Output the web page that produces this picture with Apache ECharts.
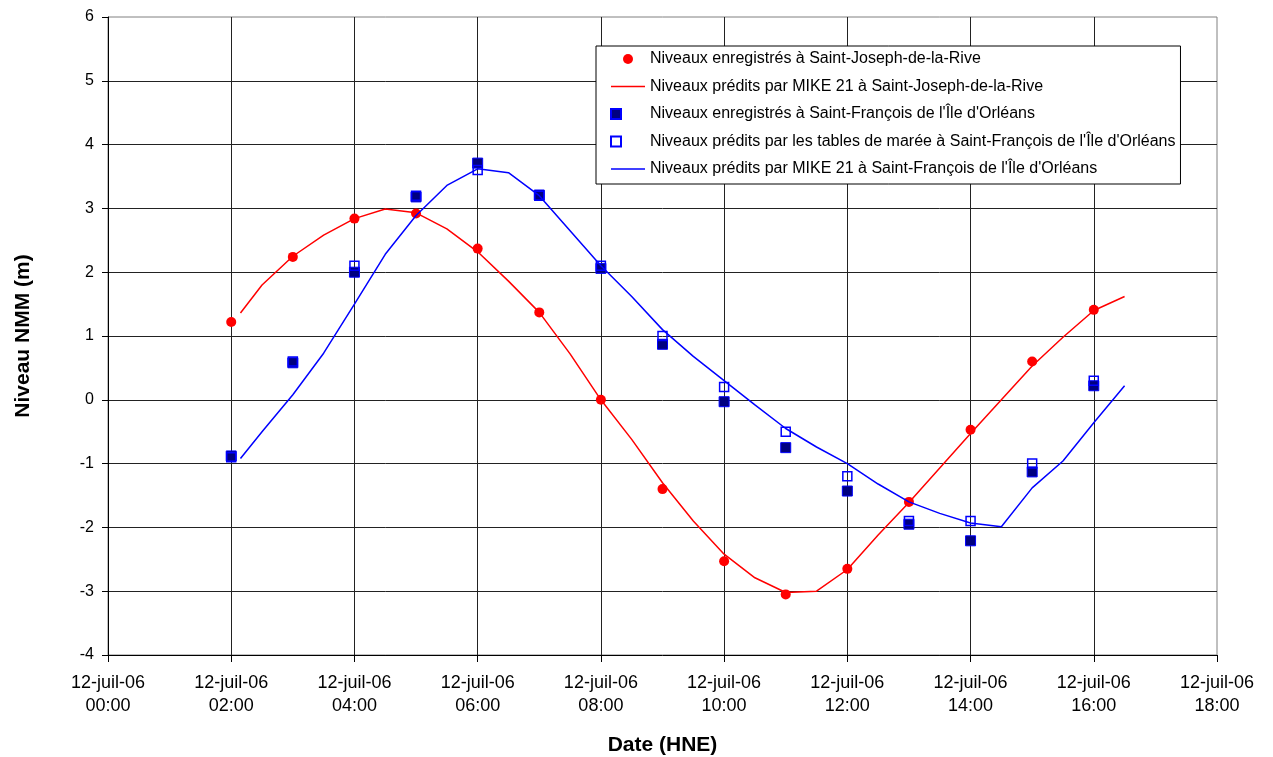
<!DOCTYPE html>
<html lang="fr">
<head>
<meta charset="UTF-8">
<title>Niveaux NMM - 12 juillet 2006</title>
<script src="https://cdn.jsdelivr.net/npm/echarts@6/dist/echarts.min.js"></script>
<style>
	html, body { margin: 0; padding: 0; background: #fff; }
	#main { width: 1273px; height: 757px; }
</style>
</head>
<body>
<div id="main"></div>
<script>
	// heures d'observation (HNE), 12 juillet 2006
	var obsHours = [2, 3, 4, 5, 6, 7, 8, 9, 10, 11, 12, 13, 14, 15, 16];
	var sjRecorded = [1.22, 2.24, 2.84, 2.92, 2.37, 1.37, 0.0, -1.40, -2.53, -3.05, -2.65, -1.60, -0.47, 0.60, 1.41];
	var sfRecorded = [-0.88, 0.58, 2.0, 3.18, 3.71, 3.21, 2.06, 0.87, -0.03, -0.75, -1.43, -1.95, -2.21, -1.13, 0.22];
	var sfTables = [-0.9, 0.6, 2.1, 3.2, 3.6, 3.2, 2.1, 1.0, 0.2, -0.5, -1.2, -1.9, -1.9, -1.0, 0.3];

	// sorties du modele MIKE 21
	var modelHours = [2.15, 2.5, 3, 3.5, 4, 4.5, 5, 5.5, 6, 6.5, 7, 7.5, 8, 8.5, 9, 9.5, 10, 10.5, 11, 11.5, 12, 12.5, 13, 13.5, 14, 14.5, 15, 15.5, 16, 16.5];
	var sjModel = [1.36, 1.8, 2.25, 2.58, 2.84, 2.99, 2.93, 2.68, 2.32, 1.86, 1.37, 0.72, 0.0, -0.62, -1.30, -1.90, -2.42, -2.79, -3.02, -3.0, -2.66, -2.12, -1.61, -1.07, -0.53, 0.0, 0.53, 0.98, 1.40, 1.62];
	var sfModel = [-0.92, -0.5, 0.08, 0.73, 1.5, 2.28, 2.89, 3.36, 3.62, 3.56, 3.2, 2.65, 2.1, 1.62, 1.1, 0.68, 0.3, -0.08, -0.45, -0.74, -1.0, -1.32, -1.6, -1.78, -1.93, -1.99, -1.38, -0.96, -0.36, 0.22];

	var xTickLabels = ['12-juil-06\n00:00', '12-juil-06\n02:00', '12-juil-06\n04:00', '12-juil-06\n06:00', '12-juil-06\n08:00',
		'12-juil-06\n10:00', '12-juil-06\n12:00', '12-juil-06\n14:00', '12-juil-06\n16:00', '12-juil-06\n18:00'];

	var names = [
		'Niveaux enregistrés à Saint-Joseph-de-la-Rive',
		'Niveaux prédits par MIKE 21 à Saint-Joseph-de-la-Rive',
		"Niveaux enregistrés à Saint-François de l'Île d'Orléans",
		"Niveaux prédits par les tables de marée à Saint-François de l'Île d'Orléans",
		"Niveaux prédits par MIKE 21 à Saint-François de l'Île d'Orléans"
	];

	function pairs(xs, ys) {
		return xs.map(function (x, i) { return [x, ys[i]]; });
	}

	var font = "'Liberation Sans', Arial, sans-serif";
	var lineIcon = 'path://M0,0 L34,0 L34,1.5 L0,1.5 Z';

	var option = {
		animation: false,
		backgroundColor: '#fff',
		textStyle: { fontFamily: font, color: '#000' },
		grid: {
			left: 108, right: 56, top: 17, bottom: 102,
			outerBoundsMode: 'none',
			show: true, borderColor: '#808080', borderWidth: 1, backgroundColor: '#fff'
		},
		legend: {
			orient: 'vertical',
			left: 596, top: 46,
			padding: [4, 5, 6, 14],
			itemGap: 9.5,
			itemWidth: 34,
			itemHeight: 10,
			backgroundColor: '#fff',
			borderColor: '#000',
			borderWidth: 1,
			borderRadius: 0,
			textStyle: { fontFamily: font, fontSize: 16, color: '#000', lineHeight: 18 },
			data: [
				{ name: names[0], icon: 'circle' },
				{ name: names[1], icon: lineIcon },
				{ name: names[2], icon: 'square' },
				{ name: names[3], icon: 'square' },
				{ name: names[4], icon: lineIcon }
			]
		},
		xAxis: {
			type: 'value',
			min: 0, max: 18, interval: 2,
			name: 'Date (HNE)',
			nameLocation: 'middle',
			nameGap: 80,
			nameTextStyle: { fontFamily: font, fontSize: 21, fontWeight: 'bold', color: '#000' },
			axisLine: { onZero: false, lineStyle: { color: '#000', width: 1 } },
			axisTick: { show: true, inside: false, length: 7, lineStyle: { color: '#000' } },
			axisLabel: {
				margin: 17, fontSize: 18, lineHeight: 23, color: '#000', fontFamily: font,
				formatter: function (v) { return xTickLabels[Math.round(v / 2)]; }
			},
			splitLine: { show: true, showMinLine: false, showMaxLine: false, lineStyle: { color: '#222', width: 1 } }
		},
		yAxis: {
			type: 'value',
			min: -4, max: 6, interval: 1,
			name: 'Niveau NMM (m)',
			nameLocation: 'middle',
			nameRotate: 90,
			nameGap: 74,
			nameTextStyle: { fontFamily: font, fontSize: 21, fontWeight: 'bold', color: '#000' },
			axisLine: { show: true, lineStyle: { color: '#000', width: 1 } },
			axisTick: { show: true, inside: false, length: 6, lineStyle: { color: '#000' } },
			axisLabel: { margin: 14, fontSize: 16, color: '#000', fontFamily: font },
			splitLine: { show: true, showMinLine: false, showMaxLine: false, lineStyle: { color: '#222', width: 1 } }
		},
		series: [
			{
				name: names[0], type: 'scatter', symbol: 'circle', symbolSize: 10,
				itemStyle: { color: '#ff0000', opacity: 1 },
				data: pairs(obsHours, sjRecorded), z: 3
			},
			{
				name: names[1], type: 'line', symbol: 'none', smooth: false,
				lineStyle: { color: '#ff0000', width: 1.5 }, itemStyle: { color: '#ff0000' },
				data: pairs(modelHours, sjModel), z: 4
			},
			{
				name: names[2], type: 'scatter', symbol: 'square', symbolSize: 10,
				itemStyle: { color: '#000080', borderColor: '#0000ff', borderWidth: 1, opacity: 1 },
				data: pairs(obsHours, sfRecorded), z: 5
			},
			{
				name: names[3], type: 'scatter', symbol: 'square', symbolSize: 9,
				itemStyle: { color: 'transparent', borderColor: '#0000ff', borderWidth: 1.5, opacity: 1 },
				data: pairs(obsHours, sfTables), z: 6
			},
			{
				name: names[4], type: 'line', symbol: 'none', smooth: false,
				lineStyle: { color: '#0000ff', width: 1.5 }, itemStyle: { color: '#0000ff' },
				data: pairs(modelHours, sfModel), z: 7
			}
		]
	};

	var myChart = echarts.init(document.getElementById('main'), null, { renderer: 'canvas' });
	myChart.setOption(option);
</script>
</body>
</html>
